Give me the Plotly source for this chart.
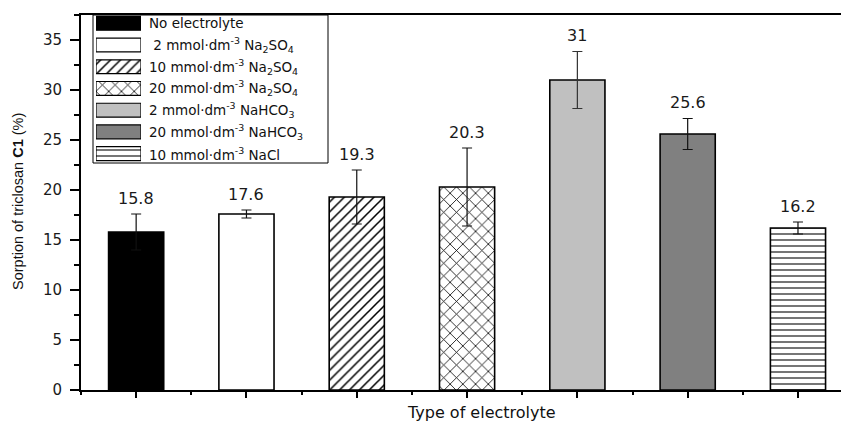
import plotly.graph_objects as go

# ---- data ----
legend_labels = [
    "No electrolyte",
    "\u00a02 mmol·dm<sup>-3</sup> Na<sub>2</sub>SO<sub>4</sub>",
    "10 mmol·dm<sup>-3</sup> Na<sub>2</sub>SO<sub>4</sub>",
    "20 mmol·dm<sup>-3</sup> Na<sub>2</sub>SO<sub>4</sub>",
    "2 mmol·dm<sup>-3</sup> NaHCO<sub>3</sub>",
    "20 mmol·dm<sup>-3</sup> NaHCO<sub>3</sub>",
    "10 mmol·dm<sup>-3</sup> NaCl",
]
positions = [1, 2, 3, 4, 5, 6, 7]
values = [15.8, 17.6, 19.3, 20.3, 31, 25.6, 16.2]
errors = [1.8, 0.4, 2.7, 3.9, 2.85, 1.55, 0.6]
value_labels = ["15.8", "17.6", "19.3", "20.3", "31", "25.6", "16.2"]
y_title = "Sorption of triclosan <b>C1</b> (%)"
x_title = "Type of electrolyte"

# ---- styles ----
fill_colors = ["#000000", "#ffffff", "#ffffff", "#ffffff", "#c0c0c0", "#808080", "#ffffff"]
pattern_shapes = ["", "", "/", "x", "", "", "-"]
pattern_sizes = [8, 8, 7, 9, 8, 8, 6]
pattern_solid = [0.2, 0.2, 0.22, 0.17, 0.2, 0.2, 0.18]
err_colors = ["#111111"] * 4 + ["#333333", "#111111", "#111111"]

W, H = 841, 421
L, R, T, B = 81, 0, 15, 31
PW, PH = W - L - R, H - T - B

def px_x(px):
    return (px - L) / PW

def px_y(py):
    return (H - B - py) / PH

def make_marker(i, lw):
    m = dict(color=fill_colors[i], line=dict(color="black", width=lw))
    if pattern_shapes[i]:
        m["pattern"] = dict(shape=pattern_shapes[i], fgcolor="black",
                            bgcolor=fill_colors[i], size=pattern_sizes[i],
                            solidity=pattern_solid[i], fillmode="replace")
    return m

fig = go.Figure()
idx = list(range(len(legend_labels)))

for i in idx:
    fig.add_trace(go.Bar(
        x=[positions[i]], y=[values[i]], width=0.5,
        marker=make_marker(i, 1.6),
        error_y=dict(type="data", array=[errors[i]], visible=True, color=err_colors[i],
                     thickness=1.2, width=5),
        xaxis="x", yaxis="y", hoverinfo="skip",
    ))
    # legend swatch on inset axis
    fig.add_trace(go.Bar(
        x=[1], y=[i], orientation="h", width=0.64,
        marker=make_marker(i, 1.2),
        xaxis="x2", yaxis="y2", hoverinfo="skip",
    ))

annotations = []
for p, v, e, t in zip(positions, values, errors, value_labels):
    annotations.append(dict(x=p, y=v + e, xref="x", yref="y", text=t, showarrow=False,
                            yanchor="middle", yshift=16,
                            font=dict(family="DejaVu Sans", size=16, color="#1a1a1a")))
for i, lab in zip(idx, legend_labels):
    annotations.append(dict(x=px_x(147), y=i, xref="paper", yref="y2", text=lab,
                            showarrow=False, xanchor="left", yanchor="middle",
                            font=dict(family="DejaVu Sans", size=13.5, color="#111111")))
annotations.append(dict(x=px_x(18), y=px_y(202), xref="paper", yref="paper", text=y_title,
                        textangle=-90, showarrow=False, xanchor="center", yanchor="middle",
                        font=dict(family="Liberation Sans", size=14.5, color="#111111")))
annotations.append(dict(x=px_x(481), y=px_y(412), xref="paper", yref="paper", text=x_title,
                        showarrow=False, xanchor="center", yanchor="middle",
                        font=dict(family="DejaVu Sans", size=16, color="#111111")))

fig.update_layout(
    width=W, height=H,
    margin=dict(l=L, r=R, t=T, b=B, pad=0),
    paper_bgcolor="white", plot_bgcolor="white",
    showlegend=False, barmode="overlay",
    xaxis=dict(range=[0.5, 7.39], tickvals=positions, showticklabels=False,
               ticks="outside", ticklen=6, tickwidth=2, tickcolor="black",
               showline=True, linewidth=2, linecolor="black", mirror=True,
               showgrid=False, zeroline=False,
               minor=dict(tick0=0.5, dtick=0.5, ticks="outside", ticklen=3,
                          tickwidth=2, tickcolor="black", showgrid=False)),
    yaxis=dict(range=[0, 37.5], tick0=0, dtick=5, ticks="outside", ticklen=9,
               tickwidth=1.5, tickcolor="black", showline=True, linewidth=2,
               linecolor="black", showgrid=False, zeroline=False,
               tickfont=dict(family="DejaVu Sans", size=15, color="#1a1a1a"),
               ticklabelstandoff=5,
               minor=dict(tick0=0, dtick=2.5, ticks="outside", ticklen=5,
                          tickwidth=1.5, tickcolor="black", showgrid=False)),
    xaxis2=dict(domain=[px_x(96), px_x(141)], anchor="y2", range=[0, 1],
                visible=False, fixedrange=True),
    yaxis2=dict(domain=[0.6, 1.0], anchor="x2", range=[6.523, -0.381],
                visible=False, fixedrange=True),
    shapes=[dict(type="rect", xref="paper", yref="paper",
                 x0=px_x(93), x1=px_x(328), y0=px_y(163), y1=1.0,
                 line=dict(color="black", width=1), fillcolor="rgba(0,0,0,0)",
                 layer="above")],
    annotations=annotations,
)

fig.write_html("out.html")
